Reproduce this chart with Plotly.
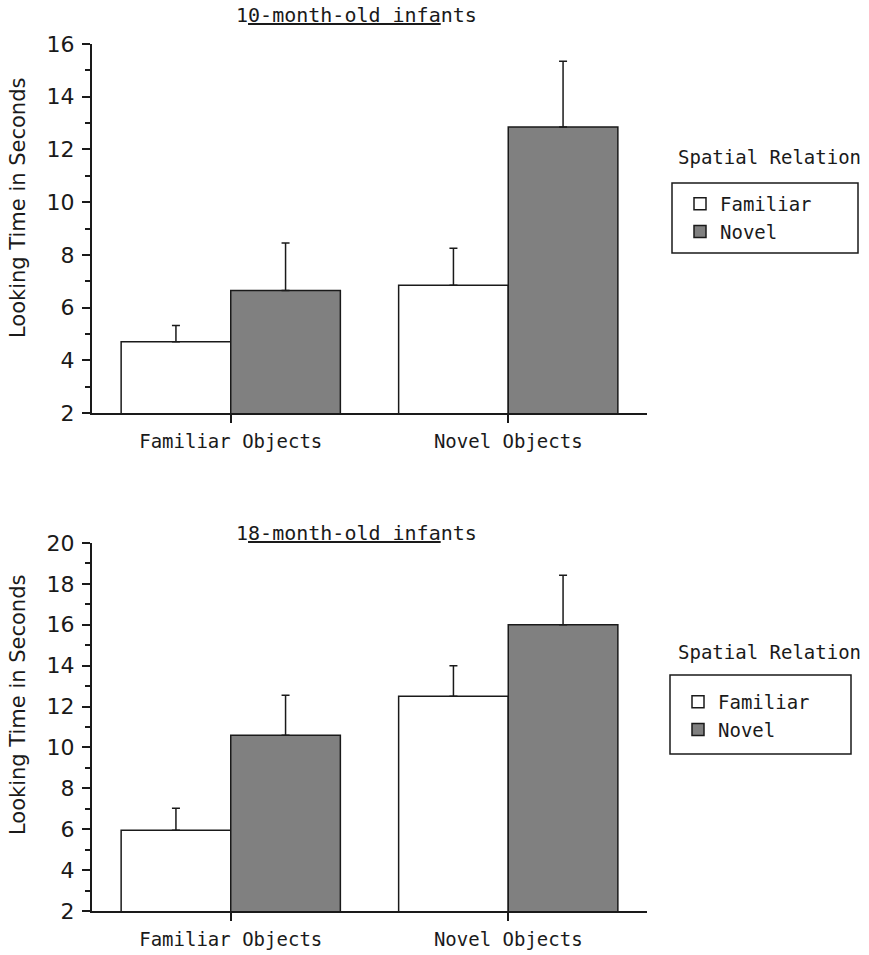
import plotly.graph_objects as go

categories = ["Familiar Objects", "Novel Objects"]
series_names = ["Familiar", "Novel"]

ten_familiar = [4.70, 6.85]
ten_familiar_err = [0.62, 1.40]
ten_novel = [6.65, 12.85]
ten_novel_err = [1.80, 2.50]

eighteen_familiar = [5.95, 12.50]
eighteen_familiar_err = [1.07, 1.50]
eighteen_novel = [10.60, 16.00]
eighteen_novel_err = [1.95, 2.42]

y_ticks_top = [2, 4, 6, 8, 10, 12, 14, 16]
y_ticks_bottom = [2, 4, 6, 8, 10, 12, 14, 16, 18, 20]

FONT = "DejaVu Sans"
MONO = "DejaVu Sans Mono"
INK = "#1a1a1a"
fills = ["#ffffff", "#808080"]

fig = go.Figure()

def add_bars(vals, errs, name, fill, xa, ya, legend):
    fig.add_trace(go.Bar(
        x=categories, y=vals, name=name, xaxis=xa, yaxis=ya, legend=legend,
        marker=dict(color=fill, line=dict(color=INK, width=1.5)),
        error_y=dict(type="data", array=errs, arrayminus=[0] * len(errs),
                     symmetric=False, color=INK, thickness=1.5, width=4),
    ))

add_bars(ten_familiar, ten_familiar_err, series_names[0], fills[0], "x", "y", "legend")
add_bars(ten_novel, ten_novel_err, series_names[1], fills[1], "x", "y", "legend")
add_bars(eighteen_familiar, eighteen_familiar_err, series_names[0], fills[0], "x2", "y2", "legend2")
add_bars(eighteen_novel, eighteen_novel_err, series_names[1], fills[1], "x2", "y2", "legend2")

xcommon = dict(
    type="category", range=[-0.5, 1.5], showline=True, linecolor=INK, linewidth=1.5,
    ticks="outside", ticklen=8, tickwidth=1.5, tickcolor=INK, showgrid=False,
    tickfont=dict(family=MONO, size=19, color=INK), zeroline=False, ticklabelstandoff=2,
    automargin=False,
)
ycommon = dict(
    showline=True, linecolor=INK, linewidth=2, ticks="outside", ticklen=8,
    tickwidth=1.5, tickcolor=INK, showgrid=False, zeroline=False,
    tickfont=dict(family=FONT, size=22, color=INK), ticklabelstandoff=3,
    minor=dict(ticks="outside", ticklen=5, dtick=1, tickwidth=1.5, tickcolor=INK, showgrid=False),
    automargin=False,
)

# figure fills the 869x955 page (body margin removed); plot area 555x867 at (92, 44)
top_dom = [(911 - 413) / 867, 1.0]
bot_dom = [0.0, (911 - 543) / 867]

fig.update_layout(
    width=869, height=955,
    margin=dict(l=92, r=222, t=44, b=44, autoexpand=False),
    paper_bgcolor="white", plot_bgcolor="white",
    barmode="group", bargap=0.21, bargroupgap=0,
    font=dict(family=FONT, color=INK, size=20),
    xaxis=dict(**xcommon, domain=[0, 1], anchor="y"),
    yaxis=dict(**ycommon, domain=top_dom, range=[2, 16], tickvals=y_ticks_top, anchor="x"),
    xaxis2=dict(**xcommon, domain=[0, 1], anchor="y2"),
    yaxis2=dict(**ycommon, domain=bot_dom, range=[2, 20], tickvals=y_ticks_bottom, anchor="x2"),
    legend=dict(x=(680 - 92) / 555, y=(911 - 185) / 867, xanchor="left", yanchor="top",
                bgcolor="rgba(0,0,0,0)", borderwidth=0,
                font=dict(family=MONO, size=19, color=INK)),
    legend2=dict(x=(678 - 92) / 555, y=(911 - 683) / 867, xanchor="left", yanchor="top",
                 bgcolor="rgba(0,0,0,0)", borderwidth=0,
                 font=dict(family=MONO, size=19, color=INK)),
    showlegend=True,
)

# legend boxes
fig.add_shape(type="rect", xref="paper", yref="paper",
              x0=(672 - 92) / 555, x1=(858 - 92) / 555,
              y0=(911 - 253) / 867, y1=(911 - 183) / 867,
              line=dict(color=INK, width=1.5))
fig.add_shape(type="rect", xref="paper", yref="paper",
              x0=(670 - 92) / 555, x1=(851 - 92) / 555,
              y0=(911 - 754) / 867, y1=(911 - 675) / 867,
              line=dict(color=INK, width=1.5))

fig.add_annotation(text="1<u>0-month-old infa</u>nts", xref="paper", yref="paper",
                   x=(356 - 92) / 555, y=(911 - 15) / 867, showarrow=False,
                   xanchor="center", yanchor="middle",
                   font=dict(family=MONO, size=20, color=INK))
fig.add_annotation(text="1<u>8-month-old infa</u>nts", xref="paper", yref="paper",
                   x=(356 - 92) / 555, y=(911 - 533) / 867, showarrow=False,
                   xanchor="center", yanchor="middle",
                   font=dict(family=MONO, size=20, color=INK))

for yc in [(911 - 208) / 867, (911 - 705) / 867]:
    fig.add_annotation(text="Looking Time in Seconds", xref="paper", yref="paper",
                       x=(4 - 92) / 555, y=yc, textangle=-90, showarrow=False,
                       xanchor="left", yanchor="middle",
                       font=dict(family=FONT, size=21, color=INK))

for yc in [(911 - 157) / 867, (911 - 652) / 867]:
    fig.add_annotation(text="Spatial Relation", xref="paper", yref="paper",
                       x=(676 - 92) / 555, y=yc, showarrow=False,
                       xanchor="left", yanchor="middle",
                       font=dict(family=MONO, size=19, color=INK))

fig.write_html("out.html", config={"displayModeBar": False},
               post_script="document.body.style.margin='0px';")
